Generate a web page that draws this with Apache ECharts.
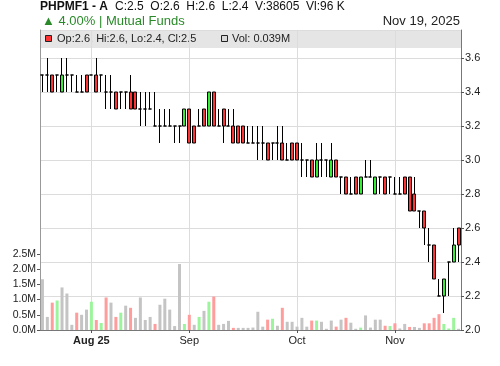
<!DOCTYPE html>
<html><head><meta charset="utf-8">
<script src="https://cdn.jsdelivr.net/npm/echarts@6/dist/echarts.min.js"></script>
<style>html,body{margin:0;padding:0;background:#fff}#c{width:500px;height:366px}</style>
</head><body><div id="c"></div>
<script>
// [open, close, low, high]
const ohlc = [
[3.5,3.5,3.4,3.5],[3.5,3.5,3.4,3.6],[3.5,3.4,3.4,3.5],[3.5,3.5,3.4,3.5],[3.4,3.5,3.4,3.6],
[3.5,3.5,3.4,3.6],[3.5,3.5,3.4,3.5],[3.4,3.4,3.4,3.5],[3.4,3.4,3.4,3.5],[3.5,3.4,3.4,3.5],
[3.5,3.5,3.5,3.5],[3.5,3.4,3.4,3.6],[3.5,3.5,3.4,3.5],[3.4,3.4,3.3,3.5],[3.4,3.4,3.3,3.5],
[3.4,3.3,3.3,3.4],[3.4,3.4,3.3,3.4],[3.4,3.4,3.3,3.4],[3.4,3.3,3.3,3.5],[3.4,3.3,3.3,3.4],
[3.3,3.3,3.2,3.4],[3.3,3.3,3.2,3.4],[3.3,3.3,3.3,3.4],[3.2,3.2,3.2,3.4],[3.2,3.2,3.1,3.3],
[3.2,3.2,3.2,3.3],[3.2,3.2,3.2,3.3],[3.2,3.2,3.1,3.2],[3.2,3.2,3.1,3.2],[3.2,3.3,3.2,3.3],
[3.3,3.1,3.1,3.3],[3.2,3.1,3.1,3.2],[3.2,3.2,3.2,3.3],[3.3,3.2,3.2,3.3],[3.2,3.4,3.2,3.4],
[3.4,3.2,3.2,3.4],[3.2,3.2,3.2,3.3],[3.3,3.2,3.1,3.3],[3.2,3.2,3.2,3.3],[3.2,3.1,3.1,3.3],
[3.2,3.1,3.1,3.2],[3.2,3.1,3.1,3.2],[3.1,3.1,3.1,3.2],[3.1,3.1,3.1,3.2],[3.1,3.1,3.0,3.2],
[3.1,3.1,3.0,3.2],[3.1,3.0,3.0,3.1],[3.1,3.1,3.0,3.1],[3.1,3.1,3.0,3.2],[3.1,3.0,3.0,3.2],
[3.0,3.0,3.0,3.1],[3.1,3.0,3.0,3.1],[3.1,3.0,3.0,3.1],[3.0,3.0,2.9,3.1],[3.0,3.0,2.9,3.0],
[3.0,2.9,2.9,3.0],[2.9,3.0,2.9,3.1],[3.0,3.0,2.9,3.1],[3.0,3.0,2.9,3.0],[2.9,3.0,2.9,3.1],
[3.0,2.9,2.9,3.0],[2.9,2.9,2.8,2.9],[2.9,2.8,2.8,2.9],[2.8,2.8,2.8,2.9],[2.9,2.8,2.8,2.9],
[2.8,2.9,2.8,2.9],[2.9,2.9,2.9,3.0],[2.9,2.9,2.9,3.0],[2.8,2.9,2.8,2.9],[2.9,2.9,2.8,2.9],
[2.9,2.8,2.8,2.9],[2.9,2.9,2.8,2.9],[2.8,2.8,2.8,2.9],[2.8,2.8,2.8,2.9],[2.9,2.8,2.8,2.9],
[2.9,2.7,2.7,2.9],[2.8,2.7,2.7,2.9],[2.7,2.7,2.6,2.7],[2.7,2.6,2.5,2.7],[2.5,2.5,2.4,2.6],
[2.5,2.3,2.3,2.5],[2.2,2.2,2.2,2.3],[2.2,2.3,2.1,2.3],[2.4,2.4,2.2,2.4],[2.4,2.5,2.4,2.6],
[2.6,2.5,2.4,2.6]
];
// volume in millions
const volumeM = [
1.67,0.43,0.90,0.97,1.40,1.20,0.17,0.57,0.50,0.67,
0.93,0.33,0.23,1.07,0.90,0.43,0.57,0.80,0.73,0.40,
1.07,0.33,0.43,0.20,0.83,1.03,0.67,0.13,2.17,0.20,
0.50,0.17,0.43,0.63,0.93,1.10,0.17,0.20,0.30,0.07,
0.07,0.07,0.07,0.08,0.60,0.11,0.34,0.37,0.14,0.73,
0.27,0.27,0.11,0.40,0.11,0.31,0.31,0.27,0.04,0.31,
0.11,0.34,0.40,0.24,0.04,0.08,0.48,0.08,0.34,0.34,
0.14,0.13,0.22,0.05,0.20,0.10,0.10,0.07,0.22,0.22,
0.40,0.52,0.20,0.05,0.40,0.039
];
const tickIndex = [10, 30, 52, 72];
const tickLabels = ['Aug 25', 'Sep', 'Oct', 'Nov'];
const boldTicks = ['Aug 25'];

const headerTitle = 'PHPMF1 - A';
const headerQuote = 'C:2.5  O:2.6  H:2.6  L:2.4  V:38605  Vl:96 K';
const headerChange = '\u25B2 4.00% | Mutual Funds';
const headerDate = 'Nov 19, 2025';
const legendPrice = 'Op:2.6, Hi:2.6, Lo:2.4, Cl:2.5';
const legendVol = 'Vol: 0.039M';

const FONT = '"Liberation Sans", Arial, sans-serif';
const categories = ohlc.map((_, i) => String(i));
const isTick = (i) => tickIndex.indexOf(i) >= 0;

const volData = volumeM.map((v, i) => {
  let col = '#c4c4c4';
  if (i > 0) {
    const c = ohlc[i][1], p = ohlc[i - 1][1];
    if (c > p + 1e-9) col = '#9cf59c';
    else if (c < p - 1e-9) col = '#ff9c9c';
  }
  return { value: v * 1e6, itemStyle: { color: col } };
});

const chart = echarts.init(document.getElementById('c'), null, { renderer: 'canvas' });
chart.setOption({
  animation: false,
  backgroundColor: '#ffffff',
  grid: [
    { left: 40, right: 39, top: 30, bottom: 36 },
    { left: 40, right: 39, top: 254, bottom: 36 }
  ],
  xAxis: [
    {
      type: 'category', gridIndex: 0, data: categories, boundaryGap: true,
      axisLine: { show: true, onZero: false, lineStyle: { color: '#777', width: 1 } },
      axisTick: { show: true, interval: (i) => isTick(i), alignWithLabel: true, length: 3, lineStyle: { color: '#555' } },
      axisLabel: {
        interval: (i) => isTick(i), margin: 5,
        formatter: (v, i) => {
          const k = tickIndex.indexOf(Number(v));
          if (k < 0) return '';
          const t = tickLabels[k];
          return boldTicks.indexOf(t) >= 0 ? '{b|' + t + '}' : '{n|' + t + '}';
        },
        rich: {
          b: { fontFamily: FONT, fontSize: 11, fontWeight: 'bold', color: '#222' },
          n: { fontFamily: FONT, fontSize: 11, color: '#222' }
        }
      },
      splitLine: { show: true, interval: (i) => isTick(i), alignWithLabel: true, lineStyle: { color: '#dcdcdc', width: 1 } }
    },
    { type: 'category', gridIndex: 1, data: categories, boundaryGap: true, show: false }
  ],
  yAxis: [
    {
      type: 'value', gridIndex: 0, position: 'right', min: 2.0, max: 2.0 + 300 / 170, interval: 0.2,
      axisLine: { show: true, lineStyle: { color: '#777' } },
      axisTick: { show: true, inside: false, length: 3, lineStyle: { color: '#555' } },
      axisLabel: { showMaxLabel: false, margin: 4, fontFamily: FONT, fontSize: 11, color: '#222', formatter: (v) => v.toFixed(1) },
      splitLine: { show: true, lineStyle: { color: '#dcdcdc', width: 1 } }
    },
    {
      type: 'value', gridIndex: 0, position: 'left', min: 0, max: 1,
      axisLine: { show: true, lineStyle: { color: '#999' } },
      axisTick: { show: false }, axisLabel: { show: false }, splitLine: { show: false }
    },
    {
      type: 'value', gridIndex: 1, position: 'left', min: 0, max: 2.5e6, interval: 5e5,
      axisLine: { show: true, lineStyle: { color: '#999' } },
      axisTick: { show: true, length: 3, lineStyle: { color: '#555' } },
      axisLabel: { margin: 4, fontFamily: FONT, fontSize: 10.5, color: '#222', formatter: (v) => (v / 1e6).toFixed(1) + 'M' },
      splitLine: { show: false }
    }
  ],
  series: [
    {
      type: 'bar', xAxisIndex: 1, yAxisIndex: 2, data: volData, barWidth: 3, silent: true
    },
    {
      type: 'candlestick', xAxisIndex: 0, yAxisIndex: 0, data: ohlc, barWidth: 3.5, silent: true,
      itemStyle: {
        color: '#33ee33', color0: '#ff3333',
        borderColor: '#000', borderColor0: '#000', borderColorDoji: '#000', borderWidth: 1
      }
    }
  ],
  graphic: [
    { type: 'rect', shape: { x: 40, y: 30, width: 421, height: 18 }, style: { fill: 'rgba(175,175,175,0.33)' }, silent: true },
    { type: 'line', shape: { x1: 40, y1: 30.5, x2: 461, y2: 30.5 }, style: { stroke: '#999', lineWidth: 1 }, silent: true },
    { type: 'rect', shape: { x: 45.5, y: 35.5, width: 6, height: 6 }, style: { fill: '#ff3333', stroke: '#222', lineWidth: 1 } },
    { type: 'text', x: 57, y: 39, style: { text: legendPrice, font: '11px ' + FONT, fill: '#222', verticalAlign: 'middle' } },
    { type: 'rect', shape: { x: 221.5, y: 35.5, width: 6, height: 6 }, style: { fill: '#d8d8d8', stroke: '#222', lineWidth: 1 } },
    { type: 'text', x: 232, y: 39, style: { text: legendVol, font: '11px ' + FONT, fill: '#222', verticalAlign: 'middle' } },
    { type: 'text', x: 40, y: 7, style: { text: headerTitle, font: 'bold 12px ' + FONT, fill: '#111', verticalAlign: 'middle' } },
    { type: 'text', x: 115, y: 7, style: { text: headerQuote, font: '12px ' + FONT, fill: '#111', verticalAlign: 'middle' } },
    { type: 'text', x: 42, y: 21.5, style: { text: headerChange, font: '13px ' + FONT, fill: '#2a8a2a', verticalAlign: 'middle' } },
    { type: 'text', x: 460, y: 21.5, style: { text: headerDate, font: '13px ' + FONT, fill: '#222', align: 'right', verticalAlign: 'middle' } }
  ]
});
</script>
</body></html>
